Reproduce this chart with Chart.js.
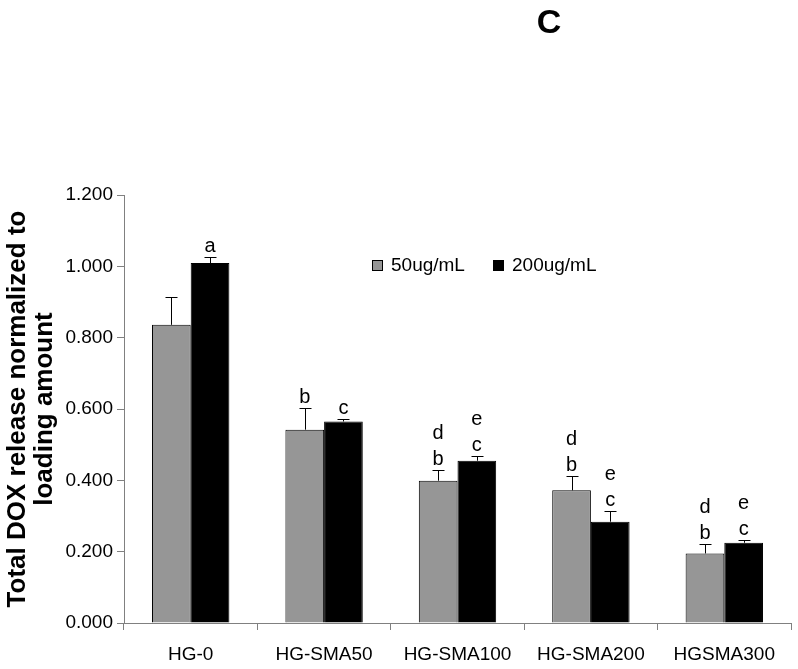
<!DOCTYPE html>
<html>
<head>
<meta charset="utf-8">
<script src="https://cdn.jsdelivr.net/npm/chart.js@4.4.0/dist/chart.umd.min.js"></script>
<style>
  html, body { margin: 0; padding: 0; background: #fff; }
  #wrap { width: 798px; height: 669px; }
</style>
</head>
<body>
<div id="wrap"><canvas id="chart" width="798" height="669"></canvas></div>
<script>
const categories = ['HG-0', 'HG-SMA50', 'HG-SMA100', 'HG-SMA200', 'HGSMA300'];
const seriesLabels = ['50ug/mL', '200ug/mL'];
const low = [0.836, 0.542, 0.399, 0.372, 0.195];
const high = [1.009, 0.565, 0.455, 0.284, 0.225];
const lowErr = [0.079, 0.060, 0.031, 0.039, 0.027];
const highErr = [0.016, 0.008, 0.012, 0.031, 0.008];
const lowLetters = [[], ['b'], ['b', 'd'], ['b', 'd'], ['b', 'd']];
const highLetters = [['a'], ['c'], ['c', 'e'], ['c', 'e'], ['c', 'e']];
const yTicks = [0, 0.2, 0.4, 0.6, 0.8, 1.0, 1.2];
const panelLabel = 'C';

const FONT = '"Liberation Sans", Arial, sans-serif';
const AXIS_GRAY = '#808080';

// error bars (upper only) + significance letters
const errorBars = {
  id: 'errorBars',
  afterDatasetsDraw(chart) {
    const { ctx, scales: { y } } = chart;
    const errs = [lowErr, highErr];
    const letters = [lowLetters, highLetters];
    const vals = [low, high];
    ctx.save();
    ctx.strokeStyle = '#000';
    ctx.lineWidth = 1;
    ctx.fillStyle = '#000';
    ctx.font = '20px ' + FONT;
    ctx.textAlign = 'center';
    ctx.textBaseline = 'alphabetic';
    chart.data.datasets.forEach((ds, di) => {
      const meta = chart.getDatasetMeta(di);
      meta.data.forEach((bar, i) => {
        const x = Math.round(bar.x) + 0.5;
        const y0 = y.getPixelForValue(vals[di][i]);
        const y1 = Math.round(y.getPixelForValue(vals[di][i] + errs[di][i])) + 0.5;
        ctx.beginPath();
        ctx.moveTo(x, y0);
        ctx.lineTo(x, y1);
        ctx.moveTo(x - 6, y1);
        ctx.lineTo(x + 6, y1);
        ctx.stroke();
        letters[di][i].forEach((t, k) => {
          ctx.fillText(t, bar.x, y1 - 6 - k * 26);
        });
      });
    });
    ctx.restore();
  }
};

// legend inside the plot + panel letter, as in the original
const extras = {
  id: 'extras',
  afterDraw(chart) {
    const { ctx } = chart;
    const xs = [372, 493];
    ctx.save();
    ctx.font = '19px ' + FONT;
    ctx.textBaseline = 'middle';
    ctx.textAlign = 'left';
    chart.data.datasets.forEach((ds, i) => {
      ctx.fillStyle = ds.backgroundColor;
      ctx.fillRect(xs[i], 260, 11, 11);
      ctx.strokeStyle = '#000';
      ctx.lineWidth = 1;
      ctx.strokeRect(xs[i] + 0.5, 260.5, 10, 10);
      ctx.fillStyle = '#000';
      ctx.fillText(ds.label, xs[i] + 19, 266);
    });
    ctx.font = 'bold 34px ' + FONT;
    ctx.textAlign = 'center';
    ctx.fillText(panelLabel, 549, 24);
    ctx.restore();
  }
};

new Chart(document.getElementById('chart'), {
  type: 'bar',
  data: {
    labels: categories,
    datasets: [
      {
        label: seriesLabels[0],
        data: low,
        backgroundColor: '#969696',
        borderColor: '#000',
        borderWidth: 1,
        borderSkipped: 'bottom'
      },
      {
        label: seriesLabels[1],
        data: high,
        backgroundColor: '#000',
        borderColor: '#000',
        borderWidth: 1,
        borderSkipped: 'bottom'
      }
    ]
  },
  options: {
    responsive: false,
    animation: false,
    layout: { padding: { left: 0, right: 7, top: 195, bottom: 0 } },
    datasets: {
      bar: { categoryPercentage: 0.58, barPercentage: 1 }
    },
    plugins: {
      legend: { display: false },
      tooltip: { enabled: false },
      title: { display: false }
    },
    scales: {
      x: {
        offset: true,
        grid: {
          offset: true,
          drawOnChartArea: false,
          drawTicks: true,
          tickLength: 7,
          color: AXIS_GRAY
        },
        border: { color: AXIS_GRAY, width: 1 },
        ticks: {
          color: '#000',
          font: { family: FONT, size: 19 },
          padding: 13,
          maxRotation: 0,
          autoSkip: false
        },
        afterFit(scale) { scale.height = 46; }
      },
      y: {
        min: 0,
        max: 1.2,
        afterBuildTicks(scale) { scale.ticks = yTicks.map(v => ({ value: v })); },
        grid: {
          drawOnChartArea: false,
          drawTicks: true,
          tickLength: 7,
          color: AXIS_GRAY
        },
        border: { color: AXIS_GRAY, width: 1 },
        ticks: {
          color: '#000',
          font: { family: FONT, size: 19 },
          padding: 4,
          callback: v => Number(v).toFixed(3)
        },
        title: {
          display: true,
          text: ['Total DOX release normalized to', 'loading amount'],
          color: '#000',
          font: { family: FONT, size: 26, weight: 'bold', lineHeight: 1.04 },
          padding: { top: 4, bottom: 0 }
        },
        afterFit(scale) { scale.width = 124; }
      }
    }
  },
  plugins: [errorBars, extras]
});
</script>
</body>
</html>
